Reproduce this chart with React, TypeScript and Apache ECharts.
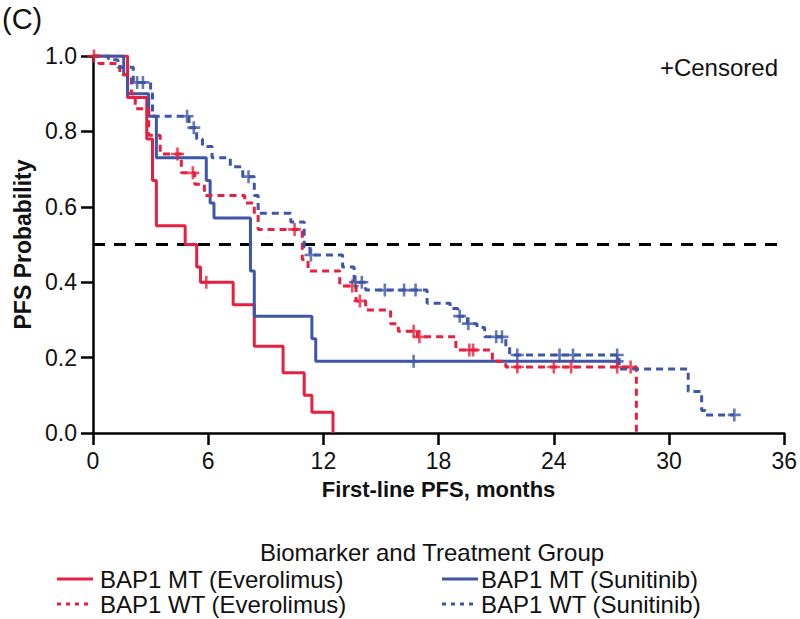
import React, { useEffect, useRef } from "react";
import * as echarts from "echarts";

// ---- Data (months, survival probability) ----
const xTicks = [0, 6, 12, 18, 24, 30, 36];
const yTicks = [0, 0.2, 0.4, 0.6, 0.8, 1.0];
const medianLevel = 0.5;

// BAP1 MT (Everolimus)
const mtEveTimes = [0, 1.8, 2.8, 3.1, 3.3, 4.8, 5.4, 5.6, 7.3, 8.4, 9.9, 11.0, 11.4, 12.5];
const mtEveSurv = [1, 0.89, 0.78, 0.67, 0.55, 0.5, 0.44, 0.4, 0.34, 0.23, 0.16, 0.1, 0.055, 0];
const mtEveCensor = [5.9];

// BAP1 MT (Sunitinib)
const mtSunTimes = [0, 1.6, 1.8, 2.9, 3.3, 5.9, 6.1, 6.3, 8.2, 8.4, 11.4, 11.6, 27.3];
const mtSunSurv = [1, 0.95, 0.9, 0.84, 0.73, 0.67, 0.61, 0.57, 0.43, 0.31, 0.25, 0.19, 0.19];
const mtSunCensor = [16.7, 27.3];

// BAP1 WT (Everolimus)
const wtEveTimes = [0, 0.3, 1.4, 2.0, 2.2, 2.9, 3.5, 4.6, 5.3, 5.8, 7.9, 8.4, 8.6, 10.9, 11.2, 12.85, 13.7, 14.2, 15.5, 15.9, 16.9, 18.9, 20.8, 21.5, 28.3];
const wtEveSurv = [1, 0.98, 0.95, 0.9, 0.86, 0.79, 0.74, 0.69, 0.66, 0.63, 0.61, 0.58, 0.54, 0.46, 0.43, 0.39, 0.35, 0.326, 0.29, 0.27, 0.255, 0.22, 0.19, 0.175, 0];
const wtEveCensor = [0.05, 4.4, 5.2, 10.5, 13.5, 13.9, 16.7, 17.0, 19.6, 19.8, 22.1, 24.0, 24.9, 27.3, 28.0];

// BAP1 WT (Sunitinib)
const wtSunTimes = [0, 0.8, 1.3, 2.1, 3.0, 3.1, 5.0, 5.4, 5.7, 6.2, 7.15, 7.8, 8.4, 8.6, 10.3, 11.0, 11.3, 13.0, 13.6, 14.2, 17.4, 18.6, 19.0, 19.5, 20.0, 20.4, 21.5, 21.7, 27.4, 31.0, 31.7, 31.9, 33.4];
const wtSunSurv = [1, 0.99, 0.97, 0.93, 0.9, 0.84, 0.81, 0.78, 0.76, 0.73, 0.706, 0.68, 0.63, 0.583, 0.56, 0.494, 0.472, 0.44, 0.4, 0.379, 0.344, 0.33, 0.31, 0.29, 0.28, 0.255, 0.23, 0.207, 0.17, 0.11, 0.06, 0.048, 0.048];
const wtSunCensor = [2.3, 2.6, 4.9, 5.25, 8.1, 11.35, 13.67, 14.0, 15.2, 16.2, 16.8, 19.1, 19.55, 21.0, 21.3, 22.1, 24.3, 25.0, 27.3, 33.4];

const groupNames = ["BAP1 MT (Everolimus)", "BAP1 MT (Sunitinib)", "BAP1 WT (Everolimus)", "BAP1 WT (Sunitinib)"];
const legendTitle = "Biomarker and Treatment Group";

const RED = "#E6203F";
const BLUE = "#3E56A6";
const FONT = "'Liberation Sans', Arial, Helvetica, sans-serif";

function survAt(times: number[], surv: number[], t: number): number {
  let v = surv[0];
  for (let i = 0; i < times.length; i++) {
    if (times[i] <= t) v = surv[i];
  }
  return v;
}

const plusPath = "path://M4,0H6V4H10V6H6V10H4V6H0V4H4Z";

export default function App() {
  const ref = useRef<HTMLDivElement>(null);
  useEffect(() => {
    if (!ref.current) return;
    const chart = echarts.init(ref.current, null, { renderer: "svg" });

    const groups = [
      { name: groupNames[0], times: mtEveTimes, surv: mtEveSurv, censor: mtEveCensor, color: RED, dashed: false },
      { name: groupNames[1], times: mtSunTimes, surv: mtSunSurv, censor: mtSunCensor, color: BLUE, dashed: false },
      { name: groupNames[2], times: wtEveTimes, surv: wtEveSurv, censor: wtEveCensor, color: RED, dashed: true },
      { name: groupNames[3], times: wtSunTimes, surv: wtSunSurv, censor: wtSunCensor, color: BLUE, dashed: true },
    ];

    const series: any[] = [
      {
        name: "median",
        type: "line",
        data: [[xTicks[0], medianLevel], [xTicks[xTicks.length - 1], medianLevel]],
        symbol: "none",
        silent: true,
        lineStyle: { color: "#000", width: 3, type: [12, 9] },
        z: 1,
      },
    ];
    groups.forEach((g, idx) => {
      series.push({
        name: g.name,
        type: "line",
        step: "end",
        symbol: "none",
        data: g.times.map((t, i) => [t, g.surv[i]]),
        lineStyle: { color: g.color, width: 3, type: g.dashed ? [7, 5] : "solid" },
        itemStyle: { color: g.color },
        z: 2 + idx,
      });
    });
    groups.forEach((g, idx) => {
      series.push({
        name: g.name + " censored",
        type: "scatter",
        symbol: plusPath,
        symbolSize: 13,
        data: g.censor.map((t) => [t, survAt(g.times, g.surv, t)]),
        itemStyle: { color: g.color },
        z: 10 + idx,
      });
    });

    // Legend drawn as graphic elements (2 columns x 2 rows)
    const legendPos = [
      { lx: 57, tx: 100, y: 579 },
      { lx: 442, tx: 481, y: 579 },
      { lx: 57, tx: 100, y: 604 },
      { lx: 442, tx: 481, y: 604 },
    ];
    const legendGraphics: any[] = [];
    groups.forEach((g, i) => {
      const p = legendPos[i];
      legendGraphics.push({
        type: "line",
        shape: { x1: p.lx, y1: p.y, x2: p.lx + 36, y2: p.y },
        style: { stroke: g.color, lineWidth: 3, lineDash: g.dashed ? [4, 5] : null },
      });
      legendGraphics.push({
        type: "text",
        x: p.tx,
        y: p.y,
        style: { text: g.name, fontSize: 24, fill: "#111", fontFamily: FONT, verticalAlign: "middle", align: "left" },
      });
    });

    chart.setOption({
      animation: false,
      textStyle: { fontFamily: FONT },
      grid: { left: 93, right: 9, top: 56, bottom: 186, containLabel: false },
      xAxis: {
        type: "value",
        min: xTicks[0],
        max: xTicks[xTicks.length - 1],
        interval: 6,
        name: "First-line PFS, months",
        nameLocation: "middle",
        nameGap: 45,
        nameTextStyle: { fontSize: 22, fontWeight: "bold", color: "#111", fontFamily: FONT },
        axisLine: { lineStyle: { color: "#000", width: 2.5 } },
        axisTick: { length: 12, lineStyle: { color: "#000", width: 2.5 } },
        axisLabel: { fontSize: 23, color: "#111", margin: 16, fontFamily: FONT },
        splitLine: { show: false },
      },
      yAxis: {
        type: "value",
        min: yTicks[0],
        max: yTicks[yTicks.length - 1],
        interval: 0.2,
        name: "PFS Probability",
        nameLocation: "middle",
        nameGap: 58,
        nameTextStyle: { fontSize: 23, fontWeight: "bold", color: "#111", fontFamily: FONT },
        axisLine: { show: true, lineStyle: { color: "#000", width: 2.5 } },
        axisTick: { show: true, length: 12, lineStyle: { color: "#000", width: 2.5 } },
        axisLabel: { fontSize: 23, color: "#111", margin: 16, fontFamily: FONT, formatter: (v: number) => v.toFixed(1) },
        splitLine: { show: false },
      },
      graphic: [
        { type: "text", left: 2, top: 4, style: { text: "(C)", fontSize: 29, fill: "#111", fontFamily: FONT } },
        { type: "text", right: 22, top: 55, style: { text: "+Censored", fontSize: 24, fill: "#111", fontFamily: FONT } },
        {
          type: "text",
          x: 432,
          y: 552,
          style: { text: legendTitle, fontSize: 24, fill: "#111", fontFamily: FONT, align: "center", verticalAlign: "middle" },
        },
        ...legendGraphics,
      ],
      series,
    });
    return () => chart.dispose();
  }, []);
  return <div ref={ref} style={{ width: 800, height: 619, position: "absolute", left: 0, top: 0 }} />;
}
